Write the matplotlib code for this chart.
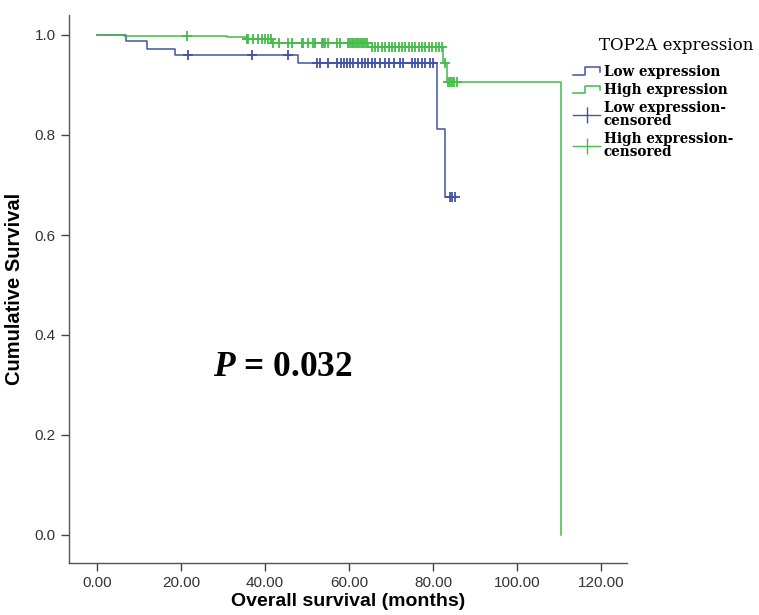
import numpy as np
import matplotlib
matplotlib.use("Agg")
import matplotlib.pyplot as plt
from matplotlib.lines import Line2D
from matplotlib.legend_handler import HandlerBase

# ---------------- data ----------------
low_times = [0.0, 6.8, 11.8, 18.6, 47.9, 80.9, 82.9, 85.2]
low_surv = [1.000, 0.988, 0.973, 0.960, 0.945, 0.812, 0.677, 0.677]
low_censor = [21.6, 37.0, 45.5, 52.3, 53.1, 55.1, 57.2, 58.0, 58.7, 59.4, 60.2,
              61.0, 62.2, 63.0, 63.8, 64.6, 65.4, 66.2, 67.4, 68.6, 69.4, 70.6,
              72.1, 72.9, 74.9, 75.7, 76.5, 77.3, 78.1, 79.3, 80.1, 84.0, 84.6, 85.2]

high_times = [0.0, 6.5, 31.0, 35.6, 41.6, 64.5, 82.3, 83.3, 110.5]
high_surv = [1.000, 0.999, 0.996, 0.992, 0.985, 0.976, 0.945, 0.907, 0.0]
high_censor = [21.4, 35.6, 36.0, 37.2, 38.4, 39.2, 40.0, 40.8, 41.3, 41.8, 43.2,
               45.5, 46.3, 48.7, 49.1, 50.3, 51.5, 51.9, 53.5, 53.9, 54.3, 55.1,
               57.1, 57.9, 59.8, 60.2, 60.6, 61.0, 61.4, 61.8, 62.2, 62.6, 63.0,
               63.4, 63.8, 64.2, 65.4, 66.2, 67.0, 67.8, 68.6, 69.4, 70.2, 71.0,
               71.8, 72.6, 73.4, 74.2, 75.0, 75.8, 76.6, 77.4, 78.2, 79.0, 79.8,
               80.6, 81.4, 82.1, 82.9, 83.5, 84.0, 84.5, 85.0, 85.6]

x_ticks = [0, 20, 40, 60, 80, 100, 120]
x_ticklabels = ["0.00", "20.00", "40.00", "60.00", "80.00", "100.00", "120.00"]
y_ticks = [0.0, 0.2, 0.4, 0.6, 0.8, 1.0]
y_ticklabels = ["0.0", "0.2", "0.4", "0.6", "0.8", "1.0"]

legend_title = "TOP2A expression"
legend_labels = ["Low expression", "High expression",
                 "Low expression-\ncensored", "High expression-\ncensored"]
p_text = r"$P$ = 0.032"

BLUE = "#4153a3"
GREEN = "#45bb4a"

# ---------------- styling ----------------
plt.rcParams["mathtext.fontset"] = "custom"
plt.rcParams["mathtext.it"] = "Liberation Serif:bold:italic"
plt.rcParams["mathtext.rm"] = "Liberation Serif:bold"
SANS = ["Liberation Sans", "DejaVu Sans"]
SERIF = ["Liberation Serif", "DejaVu Serif"]
LEGSERIF = ["DejaVu Serif"]


def step_value(times, surv, t):
    idx = np.searchsorted(times, t, side="right") - 1
    return np.asarray(surv)[idx]


class StepHandler(HandlerBase):
    def create_artists(self, legend, orig_handle, xdescent, ydescent,
                       width, height, fontsize, trans):
        x0, y0 = -xdescent, -ydescent
        xs = [x0, x0 + 0.45 * width, x0 + 0.45 * width, x0 + width, x0 + width]
        ys = [y0 + 0.1 * height, y0 + 0.1 * height, y0 + 0.9 * height,
              y0 + 0.9 * height, y0 + 0.4 * height]
        ln = Line2D(xs, ys, color=orig_handle.get_color(),
                    lw=orig_handle.get_linewidth())
        ln.set_transform(trans)
        return [ln]


W, H = 759, 615
fig = plt.figure(figsize=(W / 100, H / 100), dpi=100)
ax = fig.add_axes([69 / W, 1 - 563 / H, (627 - 69) / W, (563 - 15) / H])

low_line, = ax.step(low_times, low_surv, where="post", color=BLUE, lw=1.1)
high_line, = ax.step(high_times, high_surv, where="post", color=GREEN, lw=1.1)

lc_y = step_value(low_times, low_surv, low_censor)
hc_y = step_value(high_times, high_surv, high_censor)
ax.plot(low_censor, lc_y, ls="none", marker="+", ms=7.5, mew=1.3, color=BLUE)
ax.plot(high_censor, hc_y, ls="none", marker="+", ms=7.5, mew=1.3, color=GREEN)

ax.set_xlim(-6.7, 126.2)
ax.set_ylim(-0.056, 1.04)
ax.set_xticks(x_ticks)
ax.set_xticklabels(x_ticklabels)
ax.set_yticks(y_ticks)
ax.set_yticklabels(y_ticklabels)
for s in ["top", "right"]:
    ax.spines[s].set_visible(False)
for s in ["left", "bottom"]:
    ax.spines[s].set_color("#555555")
    ax.spines[s].set_linewidth(1.0)
ax.tick_params(direction="out", length=6, width=1.0, color="#444444",
               labelsize=11, labelcolor="#333333")
for lab in ax.get_xticklabels() + ax.get_yticklabels():
    lab.set_family(SANS)

ax.set_xlabel("Overall survival (months)", fontsize=14, fontweight="bold",
              family=SANS, labelpad=2)
ax.set_ylabel("Cumulative Survival", fontsize=14.5, fontweight="bold",
              family=SANS, labelpad=8)

ax.text(27.6, 0.334, p_text, fontsize=25.5, fontweight="bold", family=SERIF,
        ha="left", va="center")

# legend
cens_low = Line2D([], [], color=BLUE, lw=1.0, marker="|", ms=11, mew=1.0)
cens_high = Line2D([], [], color=GREEN, lw=1.0, marker="|", ms=11, mew=1.0)
leg = ax.legend([low_line, high_line, cens_low, cens_high], legend_labels,
                handler_map={low_line: StepHandler(), high_line: StepHandler()},
                loc="upper left", bbox_to_anchor=(573 / W, 1 - 65 / H),
                bbox_transform=fig.transFigure, frameon=False,
                prop={"family": LEGSERIF, "weight": "bold", "size": 9.8},
                handlelength=2.0, handletextpad=0.25, labelspacing=0.3,
                borderpad=0, borderaxespad=0)
for t in leg.get_texts():
    t.set_linespacing(0.88)
fig.text(599 / W, 1 - 46 / H, legend_title, fontsize=12, family=LEGSERIF,
         ha="left", va="center")

fig.savefig("out.png", dpi=100)
